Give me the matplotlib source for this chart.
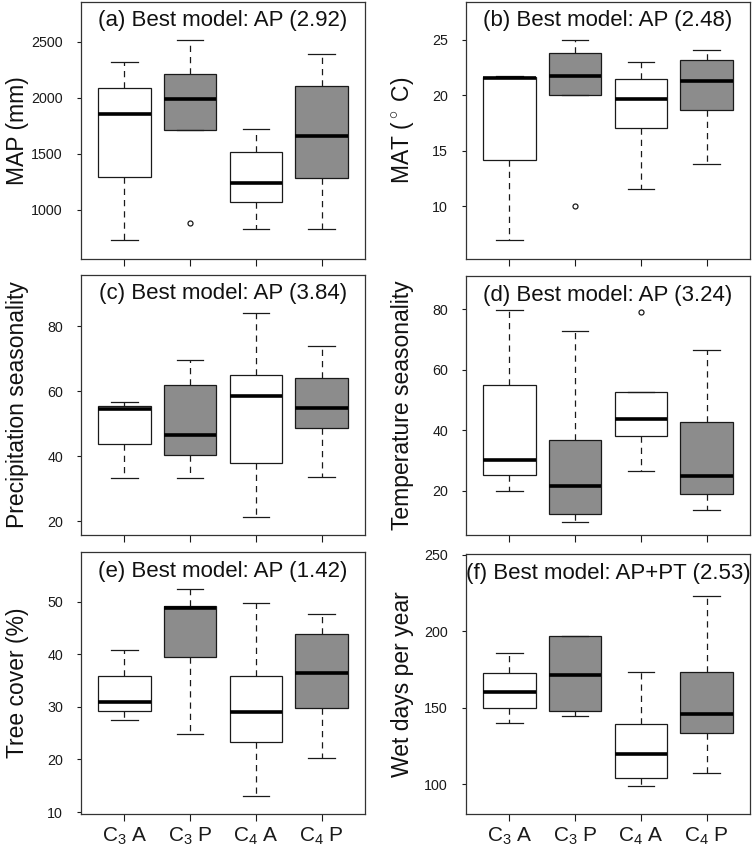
import matplotlib
matplotlib.use("Agg")
import matplotlib.pyplot as plt

plt.rcParams['font.family'] = ['Liberation Sans', 'DejaVu Sans']
plt.rcParams['mathtext.fontset'] = 'custom'
plt.rcParams['mathtext.rm'] = 'Liberation Sans'
plt.rcParams['mathtext.it'] = 'Liberation Sans:italic'
plt.rcParams['mathtext.bf'] = 'Liberation Sans:bold'

# ---------------- data ----------------
groups = ["C$_3$ A", "C$_3$ P", "C$_4$ A", "C$_4$ P"]
box_colors = ["white", "#8c8c8c", "white", "#8c8c8c"]

titles = ["(a) Best model: AP (2.92)", "(b) Best model: AP (2.48)",
          "(c) Best model: AP (3.84)", "(d) Best model: AP (3.24)",
          "(e) Best model: AP (1.42)", "(f) Best model: AP+PT (2.53)"]
ylabels = ["MAP (mm)", "MAT ($^\\circ$ C)", "Precipitation seasonality",
           "Temperature seasonality", "Tree cover (%)", "Wet days per year"]

# MAP
map_whislo = [734, 1715, 828, 831]
map_q1 = [1291, 1715, 1068, 1282]
map_med = [1851, 1984, 1240, 1658]
map_q3 = [2082, 2215, 1519, 2103]
map_whishi = [2316, 2512, 1724, 2390]
map_fliers = [[], [882], [], []]
map_ticks = [1000, 1500, 2000, 2500]

# MAT
mat_whislo = [6.95, 20.04, 11.58, 13.82]
mat_q1 = [14.21, 20.04, 17.02, 18.66]
mat_med = [21.56, 21.77, 19.68, 21.32]
mat_q3 = [21.65, 23.8, 21.5, 23.18]
mat_whishi = [21.74, 25.0, 22.97, 24.04]
mat_fliers = [[], [10.0], [], []]
mat_ticks = [10, 15, 20, 25]

# Precipitation seasonality
ps_whislo = [33.3, 33.3, 21.2, 33.6]
ps_q1 = [43.8, 40.4, 37.95, 48.6]
ps_med = [54.4, 46.5, 58.4, 54.8]
ps_q3 = [55.5, 61.95, 64.9, 64.0]
ps_whishi = [56.6, 69.5, 83.9, 73.9]
ps_fliers = [[], [], [], []]
ps_ticks = [20, 40, 60, 80]

# Temperature seasonality
ts_whislo = [20.1, 9.8, 26.4, 13.8]
ts_q1 = [25.2, 12.2, 38.1, 19.1]
ts_med = [30.06, 21.7, 43.9, 25.0]
ts_q3 = [54.9, 36.7, 52.8, 42.9]
ts_whishi = [79.8, 72.8, 52.8, 66.4]
ts_fliers = [[], [], [79.2], []]
ts_ticks = [20, 40, 60, 80]

# Tree cover
tc_whislo = [27.5, 24.8, 13.0, 20.3]
tc_q1 = [29.24, 39.4, 23.3, 29.7]
tc_med = [30.9, 48.8, 29.1, 36.4]
tc_q3 = [35.84, 49.24, 35.8, 43.8]
tc_whishi = [40.86, 52.5, 49.8, 47.6]
tc_fliers = [[], [], [], []]
tc_ticks = [10, 20, 30, 40, 50]

# Wet days per year
wd_whislo = [139.7, 144.7, 98.5, 107.0]
wd_q1 = [149.7, 147.5, 104.2, 133.1]
wd_med = [160.2, 171.5, 119.6, 145.8]
wd_q3 = [172.8, 196.6, 139.3, 173.5]
wd_whishi = [185.5, 196.6, 173.0, 223.2]
wd_fliers = [[], [], [], []]
wd_ticks = [100, 150, 200, 250]

panels = [
    (map_whislo, map_q1, map_med, map_q3, map_whishi, map_fliers, map_ticks, (562, 2853)),
    (mat_whislo, mat_q1, mat_med, mat_q3, mat_whishi, mat_fliers, mat_ticks, (5.28, 28.38)),
    (ps_whislo, ps_q1, ps_med, ps_q3, ps_whishi, ps_fliers, ps_ticks, (15.7, 95.7)),
    (ts_whislo, ts_q1, ts_med, ts_q3, ts_whishi, ts_fliers, ts_ticks, (5.4, 91.0)),
    (tc_whislo, tc_q1, tc_med, tc_q3, tc_whishi, tc_fliers, tc_ticks, (9.62, 59.46)),
    (wd_whislo, wd_q1, wd_med, wd_q3, wd_whishi, wd_fliers, wd_ticks, (80.4, 250.4)),
]

# axes rectangles in pixels: left, right, top, bottom
W, H = 752, 846
rects = [(81, 365, 2, 259), (466, 750, 2, 259),
         (81, 365, 275, 535), (466, 750, 276, 535),
         (81, 365, 552, 814), (466, 750, 554, 814)]

fig = plt.figure(figsize=(W / 100, H / 100), dpi=100)
edge = "#1a1a1a"

for i, (p, r) in enumerate(zip(panels, rects)):
    wlo, q1, med, q3, whi, fl, ticks, ylim = p
    l, rr, t, b = r
    ax = fig.add_axes([l / W, 1 - b / H, (rr - l) / W, (b - t) / H])
    stats = []
    for k in range(4):
        stats.append(dict(whislo=wlo[k], q1=q1[k], med=med[k], q3=q3[k],
                          whishi=whi[k], fliers=fl[k]))
    bp = ax.bxp(stats, positions=[1, 2, 3, 4], widths=0.8, capwidths=0.4,
                patch_artist=True, showfliers=True,
                boxprops=dict(edgecolor=edge, linewidth=0.9),
                medianprops=dict(color="black", linewidth=2.6, solid_capstyle="butt"),
                whiskerprops=dict(color=edge, linewidth=0.9, linestyle=(0, (5, 4))),
                capprops=dict(color=edge, linewidth=0.9),
                flierprops=dict(marker="o", markersize=3.6, markerfacecolor="none",
                                markeredgecolor=edge, markeredgewidth=0.9))
    for patch, c in zip(bp["boxes"], box_colors):
        patch.set_facecolor(c)
    ax.set_xlim(0.34, 4.66)
    ax.set_ylim(*ylim)
    ax.set_yticks(ticks)
    ax.set_yticklabels([str(v) for v in ticks])
    ax.set_xticks([1, 2, 3, 4])
    if i >= 4:
        ax.set_xticklabels(groups, fontsize=15)
    else:
        ax.set_xticklabels([])
    ax.tick_params(axis="y", length=3, width=0.8, pad=10, labelsize=10.3,
                   colors=edge, direction="out")
    ax.tick_params(axis="x", length=5.2, width=0.8, pad=3, colors=edge, direction="out")
    for s in ax.spines.values():
        s.set_linewidth(0.9)
        s.set_color("#333333")
    ax.text(0.5, 1 - 19 / (b - t), titles[i], transform=ax.transAxes,
            ha="center", va="center", fontsize=16, color="#111111")
    ax.set_ylabel(ylabels[i], fontsize=16.5, color="#111111", va="center")
    ax.yaxis.set_label_coords(-63 / (rr - l), 0.5)

fig.savefig("out.png", dpi=100)
